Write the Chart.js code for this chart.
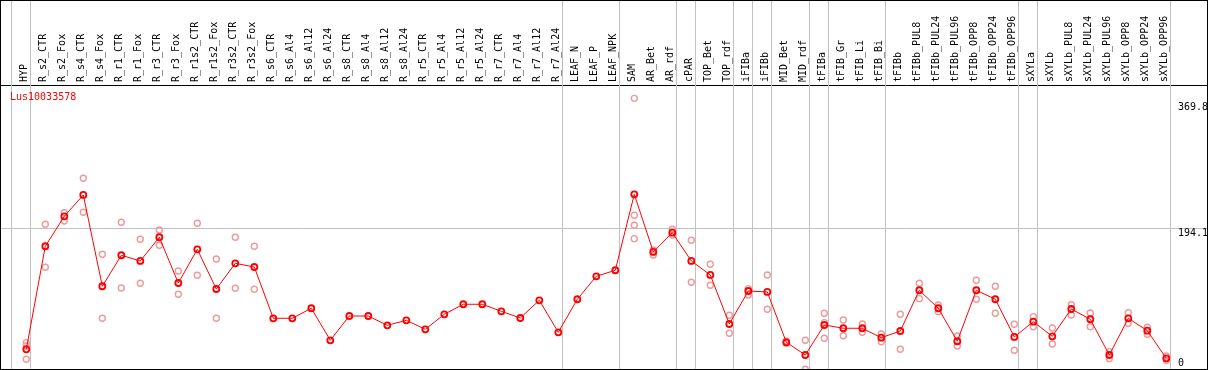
<!DOCTYPE html>
<html>
<head>
<meta charset="utf-8">
<script src="https://cdn.jsdelivr.net/npm/chart.js@4.4.1/dist/chart.umd.min.js"></script>
<style>
  html, body { margin: 0; padding: 0; background: #fff; }
  #wrap { width: 1209px; height: 370px; position: relative; }
</style>
</head>
<body>
<div id="wrap"><canvas id="chart"></canvas></div>
<script>
const geneId = 'Lus10033578';

const categories = [
  'HYP', 'R_s2_CTR', 'R_s2_Fox', 'R_s4_CTR', 'R_s4_Fox', 'R_r1_CTR', 'R_r1_Fox',
  'R_r3_CTR', 'R_r3_Fox', 'R_r1s2_CTR', 'R_r1s2_Fox', 'R_r3s2_CTR', 'R_r3s2_Fox',
  'R_s6_CTR', 'R_s6_Al4', 'R_s6_Al12', 'R_s6_Al24', 'R_s8_CTR', 'R_s8_Al4',
  'R_s8_Al12', 'R_s8_Al24', 'R_r5_CTR', 'R_r5_Al4', 'R_r5_Al12', 'R_r5_Al24',
  'R_r7_CTR', 'R_r7_Al4', 'R_r7_Al12', 'R_r7_Al24', 'LEAF_N', 'LEAF_P', 'LEAF_NPK',
  'SAM', 'AR_Bet', 'AR_rdf', 'cPAR', 'TOP_Bet', 'TOP_rdf', 'iFIBa', 'iFIBb',
  'MID_Bet', 'MID_rdf', 'tFIBa', 'tFIB_Gr', 'tFIB_Li', 'tFIB_Bi', 'tFIBb',
  'tFIBb_PUL8', 'tFIBb_PUL24', 'tFIBb_PUL96', 'tFIBb_OPP8', 'tFIBb_OPP24', 'tFIBb_OPP96',
  'sXYLa', 'sXYLb', 'sXYLb_PUL8', 'sXYLb_PUL24', 'sXYLb_PUL96', 'sXYLb_OPP8',
  'sXYLb_OPP24', 'sXYLb_OPP96'
];

// mean expression per sample (red line)
const means = [
  29.8, 169.4, 210.0, 238.9, 115.2, 157.2, 149.5, 181.6, 119.6, 165.3, 111.5, 146.3, 141.3,
  71.8, 71.8, 85.4, 42.0, 74.9, 74.9, 62.3, 69.1, 56.9, 77.2, 90.8, 90.8,
  81.3, 72.2, 96.2, 52.8, 97.6, 128.7, 136.9,
  239.8, 161.7, 187.8, 149.5, 130.5, 64.1, 108.8, 107.5, 39.3, 22.1,
  62.7, 58.3, 58.3, 45.5, 54.6, 109.8, 85.4, 40.7, 109.8, 97.6, 46.5,
  67.2, 47.4, 84.4, 70.5, 22.1, 71.8, 55.0, 17.6
];

// individual replicates (pale circles)
const replicates = [
  [38.8, 34.3, 16.3], [199.2, 140.9], [214.9, 203.7], [261.5, 215.4], [158.5, 71.8],
  [201.9, 112.9], [178.9, 119.2], [191.5, 170.7], [135.9, 104.3], [200.5, 130.1],
  [152.2, 71.8], [181.6, 112.5], [169.4, 111.1],
  [], [], [], [], [], [], [], [], [], [], [], [], [], [], [], [], [], [], [],
  [369.8, 211.4, 197.8, 179.7], [164.4, 157.6], [192.4, 184.7], [177.5, 120.6],
  [145.0, 116.5], [75.9, 51.5], [112.0, 103.4], [130.5, 84.0], [41.0, 38.0], [42.0, 2.7],
  [78.6, 65.9, 44.7], [69.5, 48.2], [64.1, 52.8], [50.5, 40.1], [77.2, 29.8],
  [119.2, 98.4], [89.8, 80.8], [47.8, 34.3], [123.3, 97.6], [115.2, 78.6], [63.7, 28.5],
  [74.0, 60.4], [58.7, 37.0], [90.2, 76.3], [79.0, 60.4], [26.6, 17.1],
  [79.4, 65.0], [59.6, 50.1], [20.7, 14.9]
];

const yLabels = [369.8, 194.1, 0];
const midLine = 194.1;
// samples after which a gray separator is drawn
const groupEnds = [-1, 0, 28, 31, 34, 35, 37, 38, 39, 41, 42, 45, 52, 53, 60];

const meanPoints = means.map((v, i) => ({ x: i, y: v }));
const repPoints = replicates.flatMap((arr, i) => arr.map(v => ({ x: i, y: v })));

const monoFont = '"DejaVu Sans Mono", monospace';

const decor = {
  id: 'decor',
  beforeDatasetsDraw(chart) {
    const { ctx, chartArea, scales: { x } } = chart;
    ctx.save();
    ctx.strokeStyle = '#c0c0c0';
    ctx.lineWidth = 1;
    groupEnds.forEach(i => {
      const px = Math.floor(x.getPixelForValue(i + 0.22)) + 0.5;
      ctx.beginPath();
      ctx.moveTo(px, 0);
      ctx.lineTo(px, chartArea.bottom);
      ctx.stroke();
    });
    ctx.restore();
  },
  afterDraw(chart) {
    const { ctx, chartArea, scales: { y } } = chart;
    ctx.save();
    ctx.font = '10px ' + monoFont;
    ctx.textBaseline = 'alphabetic';
    ctx.fillStyle = '#ff0000';
    ctx.fillText(geneId, 10, 100);
    ctx.fillStyle = '#000';
    yLabels.forEach(v => {
      let top = y.getPixelForValue(v) + 1;
      top = Math.min(Math.max(top, chartArea.top + 18), chartArea.bottom - 10);
      ctx.fillText(v === 0 ? '0' : v.toFixed(1), 1178, top + 7);
    });
    ctx.strokeStyle = '#000';
    ctx.lineWidth = 1;
    ctx.strokeRect(0.5, 0.5, chart.width - 2, chart.height - 1);
    ctx.restore();
  }
};

new Chart(document.getElementById('chart'), {
  type: 'scatter',
  data: {
    datasets: [
      {
        data: meanPoints,
        showLine: true,
        borderColor: '#ff0000',
        borderWidth: 1,
        pointStyle: 'circle',
        pointRadius: 3,
        pointBorderWidth: 1.8,
        pointBorderColor: '#ff0000',
        pointBackgroundColor: 'rgba(0,0,0,0)'
      },
      {
        data: repPoints,
        showLine: false,
        pointStyle: 'circle',
        pointRadius: 3,
        pointBorderWidth: 1.4,
        pointBorderColor: '#ee9a9a',
        pointBackgroundColor: 'rgba(0,0,0,0)'
      }
    ]
  },
  options: {
    responsive: true,
    maintainAspectRatio: false,
    animation: false,
    events: [],
    layout: { autoPadding: false, padding: { top: 1, left: 1, right: 2, bottom: 1 } },
    plugins: { legend: { display: false }, tooltip: { enabled: false } },
    scales: {
      x: {
        type: 'linear',
        position: 'top',
        min: -1.332,
        max: 62.142,
        afterBuildTicks: s => { s.ticks = categories.map((c, i) => ({ value: i })); },
        afterFit: s => {
          s.height = 84;
          s.paddingLeft = 0;
          s.paddingRight = 0;
        },
        grid: { display: false, drawTicks: false },
        border: { display: true, color: '#000', width: 1 },
        ticks: {
          autoSkip: false,
          minRotation: 90,
          maxRotation: 90,
          padding: 3,
          labelOffset: 10.5,
          color: '#000',
          font: { family: monoFont, size: 10 },
          callback: v => categories[v]
        }
      },
      y: {
        min: 3.1,
        max: 387.9,
        afterBuildTicks: s => { s.ticks = [{ value: midLine }]; },
        afterFit: s => { s.width = 0; },
        grid: { color: '#c0c0c0', drawTicks: false },
        border: { display: false },
        ticks: { display: false }
      }
    }
  },
  plugins: [decor]
});
</script>
</body>
</html>
